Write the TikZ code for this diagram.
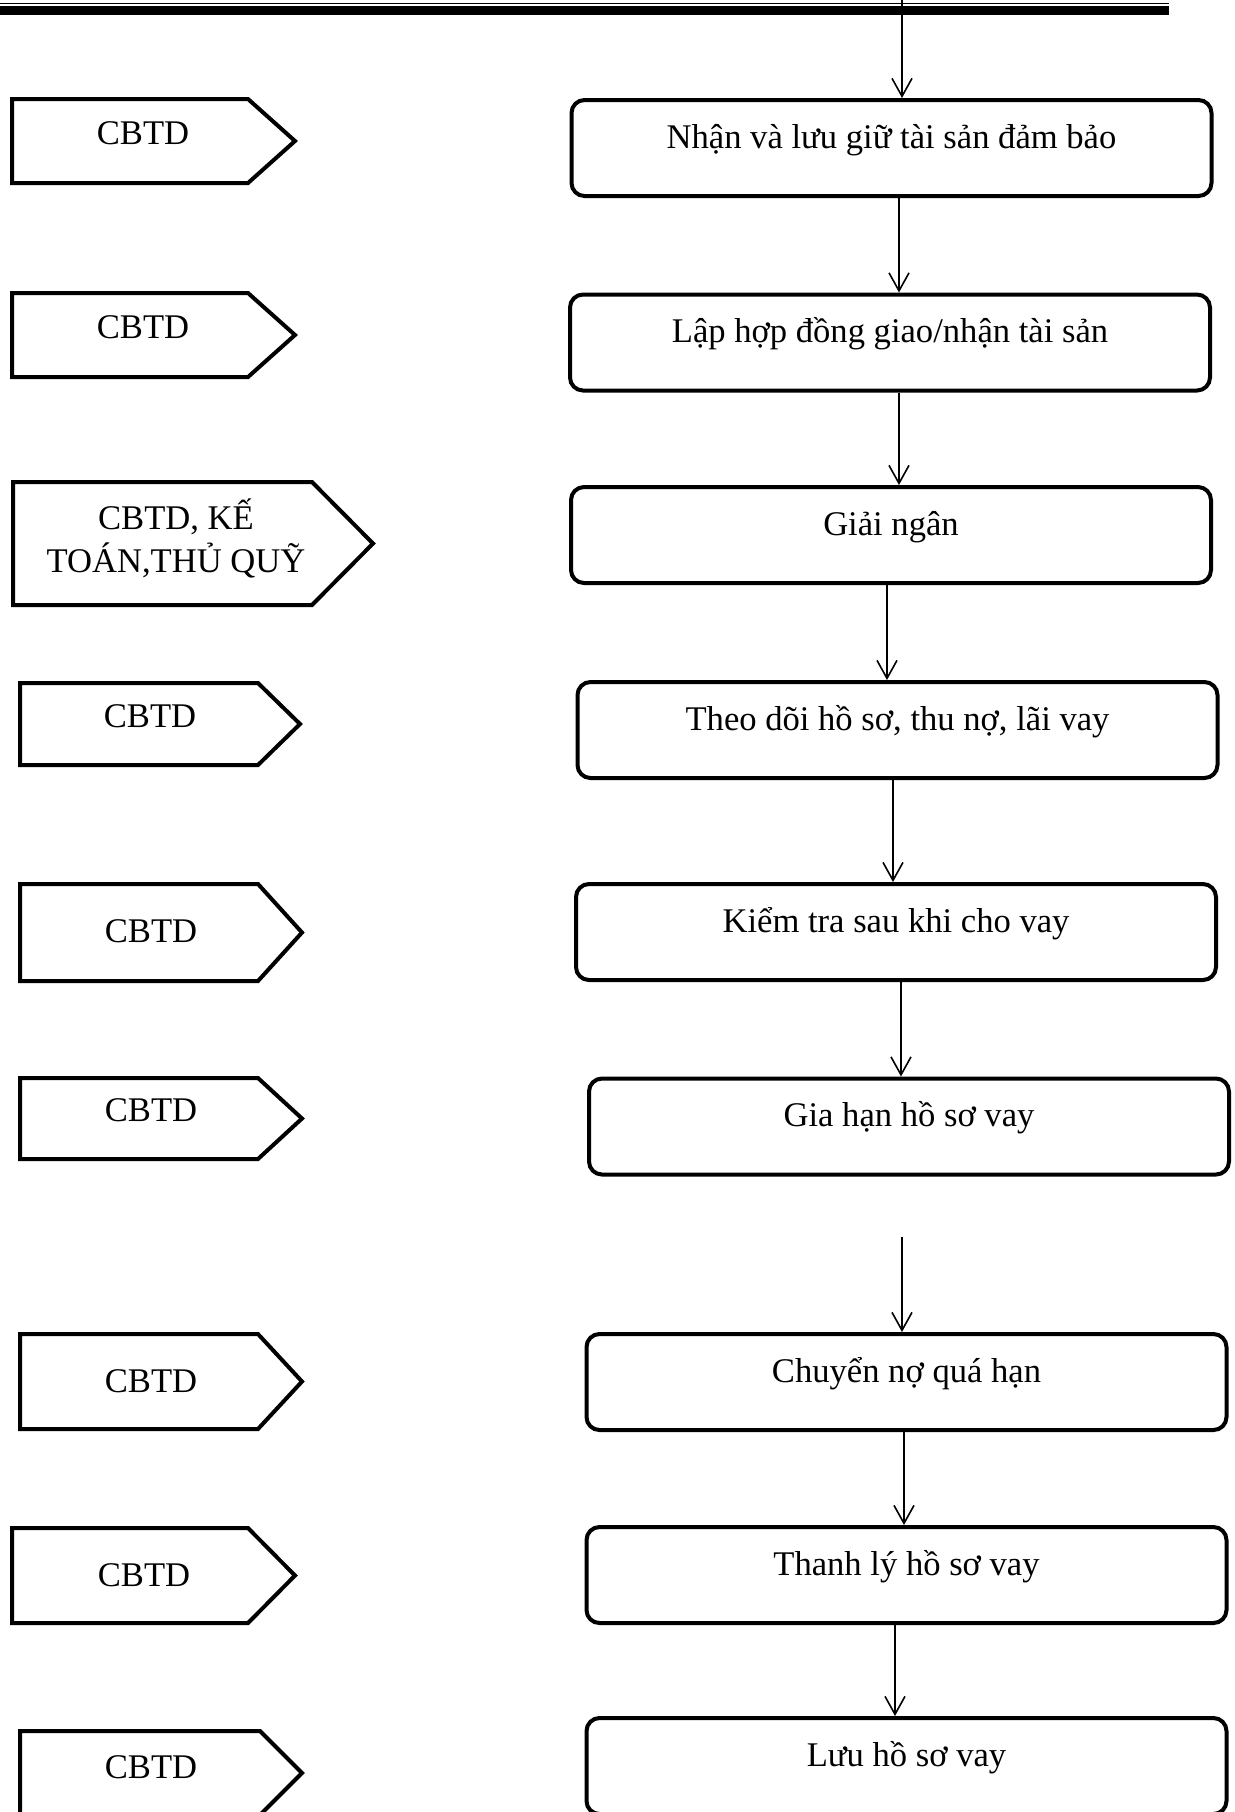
\documentclass[tikz,border=0pt]{standalone}
\usepackage{fontspec}
\setmainfont{Liberation Serif}
\usetikzlibrary{arrows.meta}
\usetikzlibrary{positioning}

\tikzset{
  stepbox/.style={draw, line width=2pt, rounded corners=6.5pt,
    minimum width=320pt, minimum height=48pt, inner sep=0pt,
    text height=10pt, text depth=10pt},
  rolebox/.style={draw, line width=2pt, line join=miter},
  roletext/.style={anchor=base, inner sep=0pt},
  flow/.style={line width=0.8pt, -{Straight Barb[length=9pt,width=10pt,line width=0.8pt]}}
}

\begin{document}
\begin{tikzpicture}[x=0.5pt, y=-0.5pt, font=\fontsize{17.3}{20.5}\selectfont]
  \useasboundingbox (0,0) rectangle (1235,1812);

  % heading rule
  \fill (0,2.6) rectangle (1169,4.2);
  \fill (0,6) rectangle (1169,15);

  % steps
  \node[stepbox] (b1) at (891.5,148) {Nhận và lưu giữ tài sản đảm bảo};
  \node[stepbox] (b2) at (890,342.5) {Lập hợp đồng giao/nhận tài sản};
  \node[stepbox] (b3) at (891,535) {Giải ngân};
  \node[stepbox] (b4) at (897.5,730) {Theo dõi hồ sơ, thu nợ, lãi vay};
  \node[stepbox] (b5) at (896,932) {Kiểm tra sau khi cho vay};
  \node[stepbox] (b6) at (909,1126.5) {Gia hạn hồ sơ vay};
  \node[stepbox] (b7) at (906.5,1382) {Chuyển nợ quá hạn};
  \node[stepbox] (b8) at (906.5,1575) {Thanh lý hồ sơ vay};
  \node[stepbox] (b9) at (906.5,1766) {Lưu hồ sơ vay};

  % arrows between steps
  \coordinate (entry) at (902,0);
  \coordinate (gap) at (902,1237);
  \draw[flow] (entry) -- (b1.north -| entry);
  \draw[flow] (gap) -- (b7.north -| gap);
  \foreach \a/\b/\x in {b1/b2/899, b2/b3/899, b3/b4/887, b4/b5/893,
                        b5/b6/901, b7/b8/904, b8/b9/895}
    \draw[flow] (\a.south -| \x,0) -- (\b.north -| \x,0);

  % who does it
  \foreach \l/\n/\p/\t/\b in {12/248/295/99/183, 12/248/295/293/377,
      13/312/373/482/605, 20/258/300/683/765, 20/258/302/884/981,
      20/258/302/1078/1159, 20/258/302/1334/1429, 12/248/295/1528/1623,
      20/260/302/1731/1815}
    \draw[rolebox] (\l,\t) -- (\n,\t) -- (\p,{(\t+\b)/2}) -- (\n,\b) -- (\l,\b) -- cycle;

  \foreach \name/\x/\y in {r1/143/144, r2/143/338, r4/150/727, r5/151/942,
      r6/151/1121, r7/151/1392, r8/144/1586, r9/151/1778}
    \node[roletext] (\name) at (\x,\y) {CBTD};
  \node[align=center, inner sep=0pt] (r3) at (176,538) {CBTD, KẾ\\[1pt]TOÁN,THỦ QUỸ};
\end{tikzpicture}
\end{document}
